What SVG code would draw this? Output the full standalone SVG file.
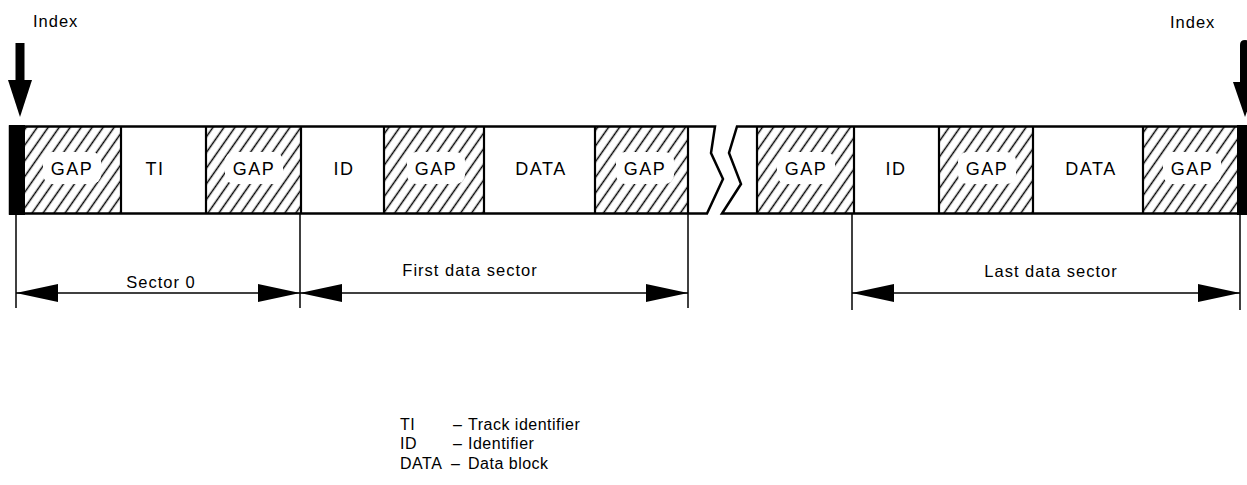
<svg xmlns="http://www.w3.org/2000/svg" width="1247" height="485" viewBox="0 0 1247 485">
  <style>
    .lbl { font-family: "Liberation Sans", Arial, sans-serif; font-size: 18px; letter-spacing: 1.5px; fill: #000; text-anchor: middle; }
    .txt { font-family: "Liberation Sans", Arial, sans-serif; font-size: 16.5px; letter-spacing: 1px; fill: #000; }
    .leg { font-family: "Liberation Sans", Arial, sans-serif; font-size: 16px; letter-spacing: 0.5px; fill: #000; }
    .edge { fill: none; stroke: #000; stroke-width: 2.5; stroke-linejoin: miter; }
    .div { stroke: #000; stroke-width: 2.2; }
    .tick { stroke: #000; stroke-width: 1.5; }
    .dim { stroke: #000; stroke-width: 1.5; }
    .hatch { fill: url(#hatch); }
    .clear { fill: #fff; }
  </style>
  <defs>
    <pattern id="hatch" patternUnits="userSpaceOnUse" width="9" height="10" patternTransform="rotate(35)">
      <line x1="4.5" y1="-1" x2="4.5" y2="11" stroke="#000" stroke-width="1.5"/>
    </pattern>
    <marker id="tip" viewBox="0 0 42 18" refX="42" refY="9" markerUnits="userSpaceOnUse" markerWidth="42" markerHeight="18" orient="auto-start-reverse">
      <path d="M0,0 L42,9 L0,18 Z" fill="#000"/>
    </marker>
  </defs>

  <!-- index pulses -->
  <g id="index-left">
    <text class="txt" x="33" y="27" font-size="17">Index</text>
    <rect x="15.5" y="43" width="9" height="38" fill="#000"/>
    <path d="M8,80 L32,80 L20,117 Z" fill="#000"/>
  </g>
  <g id="index-right">
    <text class="txt" x="1170" y="28" font-size="17">Index</text>
    <path d="M1240,82 V45 Q1240,40 1245,40 Q1250,40 1250,45 V82 Z" fill="#000"/>
    <path d="M1233,82 L1257,82 L1245,117 Z" fill="#000"/>
  </g>

  <!-- track start: sector 0 -->
  <g id="gap-0">
    <rect class="hatch" x="25" y="127" width="96" height="86"/>
    <rect class="clear" x="43" y="152" width="58" height="32" rx="9"/>
    <text class="lbl" x="72" y="175">GAP</text>
  </g>
  <g id="ti">
    <text class="lbl" x="155" y="175">TI</text>
  </g>
  <g id="gap-1">
    <rect class="hatch" x="206" y="127" width="95" height="86"/>
    <rect class="clear" x="225" y="152" width="58" height="32" rx="9"/>
    <text class="lbl" x="254" y="175">GAP</text>
  </g>

  <!-- first data sector -->
  <g id="id-1">
    <text class="lbl" x="344" y="175">ID</text>
  </g>
  <g id="gap-2">
    <rect class="hatch" x="384" y="127" width="100" height="86"/>
    <rect class="clear" x="407" y="152" width="58" height="32" rx="9"/>
    <text class="lbl" x="436" y="175">GAP</text>
  </g>
  <g id="data-1">
    <text class="lbl" x="541" y="175">DATA</text>
  </g>
  <g id="gap-3">
    <rect class="hatch" x="595" y="127" width="93" height="86"/>
    <rect class="clear" x="616" y="152" width="58" height="32" rx="9"/>
    <text class="lbl" x="645" y="175">GAP</text>
  </g>

  <!-- last data sector -->
  <g id="gap-4">
    <rect class="hatch" x="757" y="127" width="97" height="86"/>
    <rect class="clear" x="777" y="152" width="58" height="32" rx="9"/>
    <text class="lbl" x="806" y="175">GAP</text>
  </g>
  <g id="id-n">
    <text class="lbl" x="896" y="175">ID</text>
  </g>
  <g id="gap-5">
    <rect class="hatch" x="939" y="127" width="94" height="86"/>
    <rect class="clear" x="958" y="152" width="58" height="32" rx="9"/>
    <text class="lbl" x="987" y="175">GAP</text>
  </g>
  <g id="data-n">
    <text class="lbl" x="1091" y="175">DATA</text>
  </g>
  <g id="gap-6">
    <rect class="hatch" x="1143" y="127" width="94" height="86"/>
    <rect class="clear" x="1163" y="152" width="58" height="32" rx="9"/>
    <text class="lbl" x="1192" y="175">GAP</text>
  </g>

  <!-- track outline with break -->
  <g id="track">
    <path class="edge" d="M10,126.5 H715 L711,153 L723,179 L707,213.5 H10 Z"/>
    <path class="edge" d="M1246,126.5 H737 L729,153 L741,184 L722,213.5 H1246"/>
    <line class="div" x1="121" y1="126" x2="121" y2="214"/>
    <line class="div" x1="206" y1="126" x2="206" y2="214"/>
    <line class="div" x1="301" y1="126" x2="301" y2="214"/>
    <line class="div" x1="384" y1="126" x2="384" y2="214"/>
    <line class="div" x1="484" y1="126" x2="484" y2="214"/>
    <line class="div" x1="595" y1="126" x2="595" y2="214"/>
    <line class="div" x1="688" y1="126" x2="688" y2="214"/>
    <line class="div" x1="757" y1="126" x2="757" y2="214"/>
    <line class="div" x1="854" y1="126" x2="854" y2="214"/>
    <line class="div" x1="939" y1="126" x2="939" y2="214"/>
    <line class="div" x1="1033" y1="126" x2="1033" y2="214"/>
    <line class="div" x1="1143" y1="126" x2="1143" y2="214"/>
    <rect x="9" y="125" width="16" height="90" fill="#000"/>
    <rect x="1237" y="125" width="10" height="90" fill="#000"/>
  </g>

  <!-- sector extent dimensions -->
  <g id="connectors">
    <line class="tick" x1="16" y1="214" x2="16" y2="308"/>
    <line class="tick" x1="300" y1="214" x2="300" y2="308"/>
    <line class="tick" x1="688" y1="214" x2="688" y2="308"/>
    <line class="tick" x1="852" y1="214" x2="852" y2="310"/>
    <line class="tick" x1="1240" y1="214" x2="1240" y2="310"/>
    <line class="dim" x1="16" y1="293" x2="300" y2="293" marker-start="url(#tip)" marker-end="url(#tip)"/>
    <line class="dim" x1="300" y1="293" x2="688" y2="293" marker-start="url(#tip)" marker-end="url(#tip)"/>
    <line class="dim" x1="852" y1="293" x2="1240" y2="293" marker-start="url(#tip)" marker-end="url(#tip)"/>
  </g>
  <g id="dim-labels">
    <text class="txt" x="161" y="288" text-anchor="middle">Sector 0</text>
    <text class="txt" x="470" y="276" text-anchor="middle">First data sector</text>
    <text class="txt" x="1051" y="277" text-anchor="middle">Last data sector</text>
  </g>

  <!-- legend -->
  <g id="legend">
    <text class="leg" x="400" y="430">TI</text>
    <text class="leg" x="453" y="430">–</text>
    <text class="leg" x="468" y="430">Track identifier</text>
    <text class="leg" x="400" y="449">ID</text>
    <text class="leg" x="453" y="449">–</text>
    <text class="leg" x="468" y="449">Identifier</text>
    <text class="leg" x="400" y="469">DATA</text>
    <text class="leg" x="451" y="469">–</text>
    <text class="leg" x="468" y="469">Data block</text>
  </g>
</svg>
